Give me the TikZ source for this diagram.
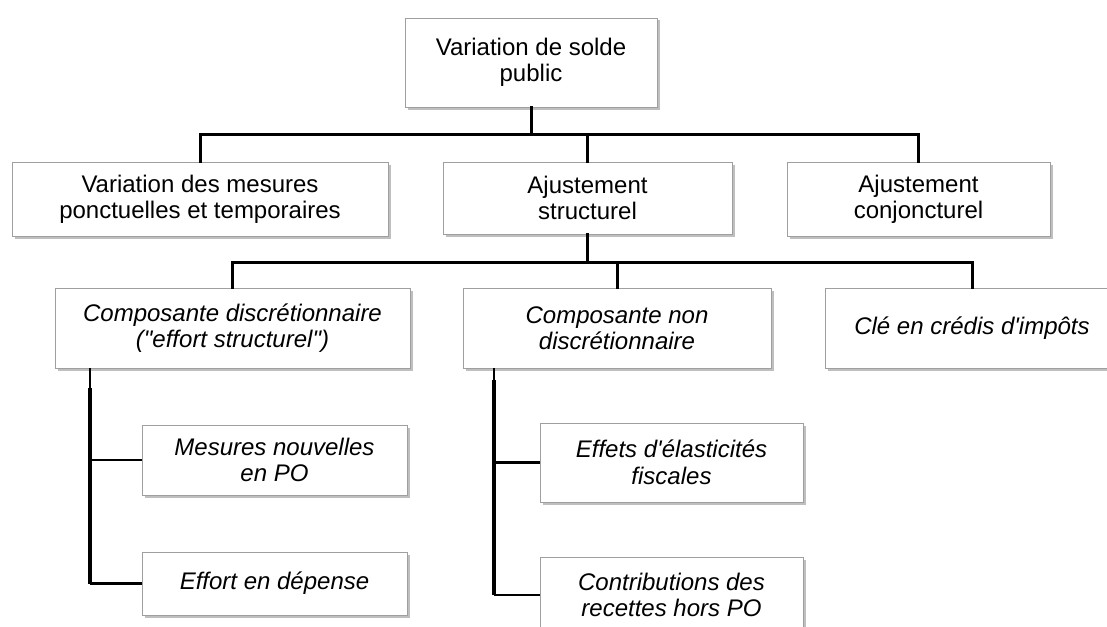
\documentclass[tikz,border=0pt]{standalone}
\usepackage{fontspec}
\setmainfont{Liberation Sans}[Ligatures=TeXOff]
\usetikzlibrary{shadows}
\tikzset{
  box/.style={draw=gray!75, line width=0.9pt, fill=white, align=center, inner sep=0pt,
    font=\fontsize{24}{26}\selectfont,
    drop shadow={shadow xshift=2.5pt, shadow yshift=-2.5pt, fill=black!45, opacity=0.55}},
  ibox/.style={box, font=\fontsize{24}{26.5}\selectfont\itshape},
  bar/.style={line width=3pt, line cap=rect},
  thinbar/.style={line width=1.3pt},
  thickbar/.style={line width=4.5pt},
  branch/.style={line width=2.6pt},
}
\begin{document}
\begin{tikzpicture}[x=1pt, y=-1pt]
\clip (0,0) rectangle (1107,626);
\fill[white] (0,0) rectangle (1107,626);

% row 1
\node[box, minimum width=252pt, minimum height=89pt] (top) at (531,62.5) {Variation de solde\\public};
% row 2
\node[box, minimum width=376pt, minimum height=74pt] (mp) at (200,199) {Variation des mesures\\ponctuelles et temporaires};
\node[box, minimum width=289pt, minimum height=72pt] (as) at (587.5,198) {Ajustement\\structurel};
\node[box, minimum width=263pt, minimum height=74pt] (ac) at (918.5,199) {Ajustement\\conjoncturel};
% row 3
\node[ibox, minimum width=355pt, minimum height=80pt] (cd) at (232.5,328) {Composante discrétionnaire\\("effort structurel")};
\node[ibox, minimum width=308pt, minimum height=80pt] (cn) at (617,328) {Composante non\\discrétionnaire};
\node[ibox, minimum width=294pt, minimum height=80pt] (cc) at (972,328) {Clé en crédis d'impôts};
% row 4
\node[ibox, minimum width=265pt, minimum height=70pt] (mn) at (274.5,460) {Mesures nouvelles\\en PO};
\node[ibox, minimum width=265pt, minimum height=63pt] (ed) at (274.5,583.5) {Effort en dépense};
\node[ibox, minimum width=263pt, minimum height=79pt] (ef) at (671.5,462.5) {Effets d'élasticités\\fiscales};
\node[ibox, minimum width=263pt, minimum height=76pt] (co) at (671.5,595) {Contributions des\\recettes hors PO};

% connectors row1 -> row2
\coordinate (j1) at (531,134);
\draw[bar] (top.south) -- (j1);
\draw[bar] (mp.north) -- (mp.north |- j1) -- (ac.north |- j1) -- (ac.north);
\draw[bar] (as.north |- j1) -- (as.north);

% row2 -> row3
\coordinate (j2) at (587.5,262);
\draw[bar] (as.south) -- (j2);
\draw[bar] (cd.north) -- (cd.north |- j2) -- (cc.north |- j2) -- (cc.north);
\draw[bar] (cn.north |- j2) -- (cn.north);

% left subtree
\coordinate (l0) at (90,368);
\coordinate (l1) at (90,388);
\draw[thinbar] (l0) -- (l1);
\draw[thickbar] (l1) -- (l1 |- ed.west);
\draw[branch] (l1 |- mn.west) -- (mn.west);
\draw[branch] (l1 |- ed.west) -- (ed.west);

% middle subtree
\coordinate (m0) at (494,368);
\coordinate (m1) at (494,380);
\draw[thinbar] (m0) -- (m1);
\draw[thickbar] (m1) -- (m1 |- co.west);
\draw[branch] (m1 |- ef.west) -- (ef.west);
\draw[branch] (m1 |- co.west) -- (co.west);
\end{tikzpicture}
\end{document}
